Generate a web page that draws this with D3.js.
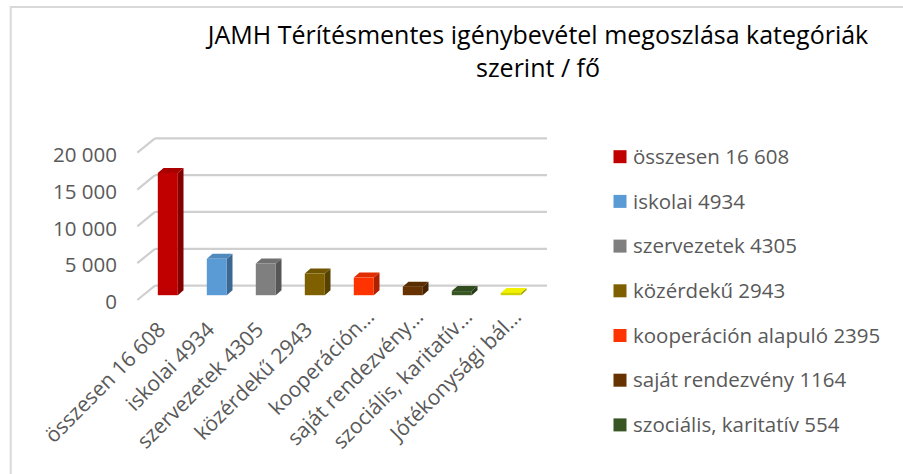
<!DOCTYPE html>
<html>
<head>
<meta charset="utf-8">
<script src="https://cdn.jsdelivr.net/npm/d3@7"></script>
<style>
  body { margin: 0; background: #fff; }
  svg { display: block; font-family: "Open Sans", "Liberation Sans", sans-serif; }
</style>
</head>
<body>
<div id="chart"></div>
<script>
// data
var categories = ["összesen 16 608", "iskolai 4934", "szervezetek 4305", "közérdekű 2943",
                  "kooperáción alapuló 2395", "saját rendezvény 1164", "szociális, karitatív 554", "Jótékonysági bál 313"]
var axisLabels = ["összesen 16 608", "iskolai 4934", "szervezetek 4305", "közérdekű 2943",
                  "kooperáción…", "saját rendezvény…", "szociális, karitatív…", "Jótékonysági bál…"]
var values = [16608, 4934, 4305, 2943, 2395, 1164, 554, 313]
var colors = ["#C00000", "#5B9BD5", "#7F7F7F", "#7F6000", "#FF3300", "#663300", "#375623", "#F2F200"]
var yTicks = [0, 5000, 10000, 15000, 20000]
var titleLines = ["JAMH Térítésmentes igénybevétel megoszlása kategóriák", "szerint / fő"]

var width = 903
var height = 474

// 3d look: front plane and how far back the wall sits
var front_x = 137.3
var plot_w = 392
var depth_x = 17.7
var depth_y = -14.4
var bar_w = 20
var bar_off_x = 6, bar_off_y = -4.8   // bars sit a bit behind the front plane
var bar_dx = 5.7, bar_dy = -5         // bar thickness

var svg = d3.select("#chart").append("svg")
    .attr("width", width)
    .attr("height", height)

// chart frame (cropped on the right and bottom)
svg.append("path")
    .attr("d", "M10.7," + height + " V7 H" + width)
    .attr("fill", "none")
    .attr("stroke", "#D9D9D9")
    .attr("stroke-width", 2)

var x = d3.scaleBand().domain(d3.range(categories.length)).range([front_x, front_x + plot_w])
var y = d3.scaleLinear().domain([0, 20000]).range([300, 152.7])

var huFormat = d3.formatLocale({decimal: ",", thousands: " ", grouping: [3], currency: ["", " Ft"]}).format(",.0f")

// title
svg.append("g").selectAll("text")
    .data(titleLines)
    .enter().append("text")
    .attr("x", 538)
    .attr("y", function(d, i){ return 43.5 + i * 33 })
    .attr("text-anchor", "middle")
    .attr("font-size", 25)
    .attr("fill", "#000")
    .text(function(d){ return d })

// gridlines on the back wall + the slanted bits on the side wall
var grid = svg.append("g")
grid.selectAll(".back").data(yTicks).enter().append("line")
    .attr("x1", front_x + depth_x).attr("x2", front_x + depth_x + plot_w)
    .attr("y1", function(d){ return y(d) + depth_y }).attr("y2", function(d){ return y(d) + depth_y })
    .attr("stroke", "#CFCFCF").attr("stroke-width", 2.2)
grid.selectAll(".side").data(yTicks).enter().append("line")
    .attr("x1", front_x).attr("x2", front_x + depth_x)
    .attr("y1", function(d){ return y(d) }).attr("y2", function(d){ return y(d) + depth_y })
    .attr("stroke", "#CFCFCF").attr("stroke-width", 2.2)

// y tick labels
svg.append("g").selectAll("text")
    .data(yTicks)
    .enter().append("text")
    .attr("x", 117)
    .attr("y", function(d){ return y(d) + 2 })
    .attr("dy", "0.35em")
    .attr("text-anchor", "end")
    .attr("font-size", 20.5)
    .attr("fill", "#595959")
    .text(function(d){ return huFormat(d) })

// bars: front face, top and right side
var bars = svg.append("g").selectAll("g")
    .data(values)
    .enter().append("g")

function bx(i){ return x(i) + x.bandwidth() / 2 + bar_off_x - bar_w / 2 }
function by0(){ return y(0) + bar_off_y }
function by1(d){ return y(d) + bar_off_y }

bars.append("polygon")
    .attr("points", function(d, i){
        var l = bx(i) + bar_w, t = by1(d), b = by0()
        return [[l, t], [l + bar_dx, t + bar_dy], [l + bar_dx, b + bar_dy], [l, b]].join(" ")
    })
    .attr("fill", function(d, i){ return d3.color(colors[i]).darker(1.1) })
bars.append("polygon")
    .attr("points", function(d, i){
        var l = bx(i), t = by1(d)
        return [[l, t], [l + bar_dx, t + bar_dy], [l + bar_w + bar_dx, t + bar_dy], [l + bar_w, t]].join(" ")
    })
    .attr("fill", function(d, i){ return i == 7 ? colors[i] : d3.color(colors[i]).darker(0.35) })
bars.append("rect")
    .attr("x", function(d, i){ return bx(i) })
    .attr("y", function(d){ return by1(d) })
    .attr("width", bar_w)
    .attr("height", function(d){ return by0() - by1(d) })
    .attr("fill", function(d, i){ return i == 7 ? d3.color(colors[i]).darker(0.4) : colors[i] })

// category labels, slanted
svg.append("g").selectAll("text")
    .data(axisLabels)
    .enter().append("text")
    .attr("transform", function(d, i){
        var cx = x(i) + x.bandwidth() / 2
        return "translate(" + (cx + 5) + ",331) rotate(-45)"
    })
    .attr("dx", function(d){ return d.slice(-1) == "…" ? 18 : 0 })
    .attr("text-anchor", "end")
    .attr("font-size", 21)
    .attr("fill", "#595959")
    .text(function(d){ return d })

// legend - only 7 entries fit in the picture
var legend = svg.append("g").selectAll("g")
    .data(categories.slice(0, 7))
    .enter().append("g")
    .attr("transform", function(d, i){ return "translate(613.5," + (156.7 + i * 44.7) + ")" })
legend.append("rect")
    .attr("x", 0).attr("y", -6.5)
    .attr("width", 13).attr("height", 13)
    .attr("fill", function(d, i){ return colors[i] })
legend.append("text")
    .attr("x", 19.5)
    .attr("dy", "0.35em")
    .attr("font-size", 20.5)
    .attr("fill", "#595959")
    .text(function(d){ return d })
</script>
</body>
</html>
